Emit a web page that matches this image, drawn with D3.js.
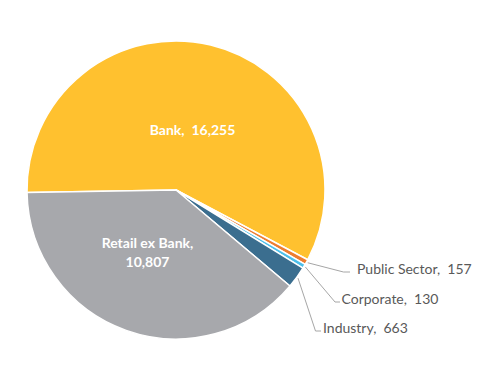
<!DOCTYPE html>
<html>
<head>
<meta charset="utf-8">
<script src="https://cdn.jsdelivr.net/npm/d3@7"></script>
<style>
  html, body { margin: 0; padding: 0; background: #ffffff; }
  svg text { font-family: Lato, "Open Sans", "Noto Sans", sans-serif; white-space: pre; }
</style>
</head>
<body>
<svg id="chart" width="499" height="392"></svg>
<script>
// ---- data ----
const categories = ["Bank", "Public Sector", "Corporate", "Industry", "Retail ex Bank"];
const values = [16255, 157, 130, 663, 10807];
const colors = ["#FFC12F", "#ED7D31", "#4CBFEA", "#3B6E8F", "#A7A8AC"];

// ---- layout ----
const W = 499, H = 392;
const cx = 176, cy = 190, R = 149;
const startDeg = -91;

const svg = d3.select("#chart");
const g = svg.append("g").attr("transform", `translate(${cx},${cy})`);

const data = categories.map((c, i) => ({ cat: c, value: values[i], color: colors[i] }));
const pie = d3.pie().value(d => d.value).sort(null)
  .startAngle(startDeg * Math.PI / 180)
  .endAngle((startDeg + 360) * Math.PI / 180);
const arcs = pie(data);
const arc = d3.arc().innerRadius(0).outerRadius(R);

g.selectAll("path.slice").data(arcs).enter().append("path")
  .attr("class", "slice")
  .attr("d", arc)
  .attr("fill", d => d.data.color)
  .attr("stroke", "#ffffff")
  .attr("stroke-width", 1.5)
  .attr("stroke-linejoin", "round");

const fmt = d3.format(",");

// inside labels (white bold)
const inside = {
  "Bank": { x: 192.5, y: 135, lines: d => [d.cat + ",  " + fmt(d.value)] },
  "Retail ex Bank": { x: 147.5, y: 248, lines: d => [d.cat + ",", fmt(d.value)] }
};
arcs.forEach(a => {
  const cfg = inside[a.data.cat];
  if (!cfg) return;
  const t = svg.append("text")
    .attr("text-anchor", "middle")
    .attr("fill", "#ffffff")
    .attr("font-weight", "bold")
    .attr("font-size", 14);
  cfg.lines(a.data).forEach((ln, i) => {
    t.append("tspan").attr("x", cfg.x).attr("y", cfg.y + i * 19).text(ln);
  });
});

// outside labels with leader lines
const outside = {
  "Public Sector": { bx: 343.5, by: 272, ex: 350, tx: 357 },
  "Corporate":     { bx: 335, by: 302, ex: 340, tx: 341.5 },
  "Industry":      { bx: 315.5, by: 331, ex: 321, tx: 323 }
};
arcs.forEach(a => {
  const cfg = outside[a.data.cat];
  if (!cfg) return;
  const mid = (a.startAngle + a.endAngle) / 2;
  const r0 = R + 1.5;
  const sx = cx + r0 * Math.sin(mid), sy = cy - r0 * Math.cos(mid);
  svg.append("path")
    .attr("d", `M${sx},${sy}L${cfg.bx},${cfg.by}L${cfg.ex},${cfg.by}`)
    .attr("fill", "none")
    .attr("stroke", "#A6A6A6")
    .attr("stroke-width", 1);
  svg.append("text")
    .attr("x", cfg.tx)
    .attr("y", cfg.by + 1.5)
    .attr("fill", "#595959")
    .attr("font-size", 14)
    .text(a.data.cat + ",  " + fmt(a.data.value));
});
</script>
</body>
</html>
